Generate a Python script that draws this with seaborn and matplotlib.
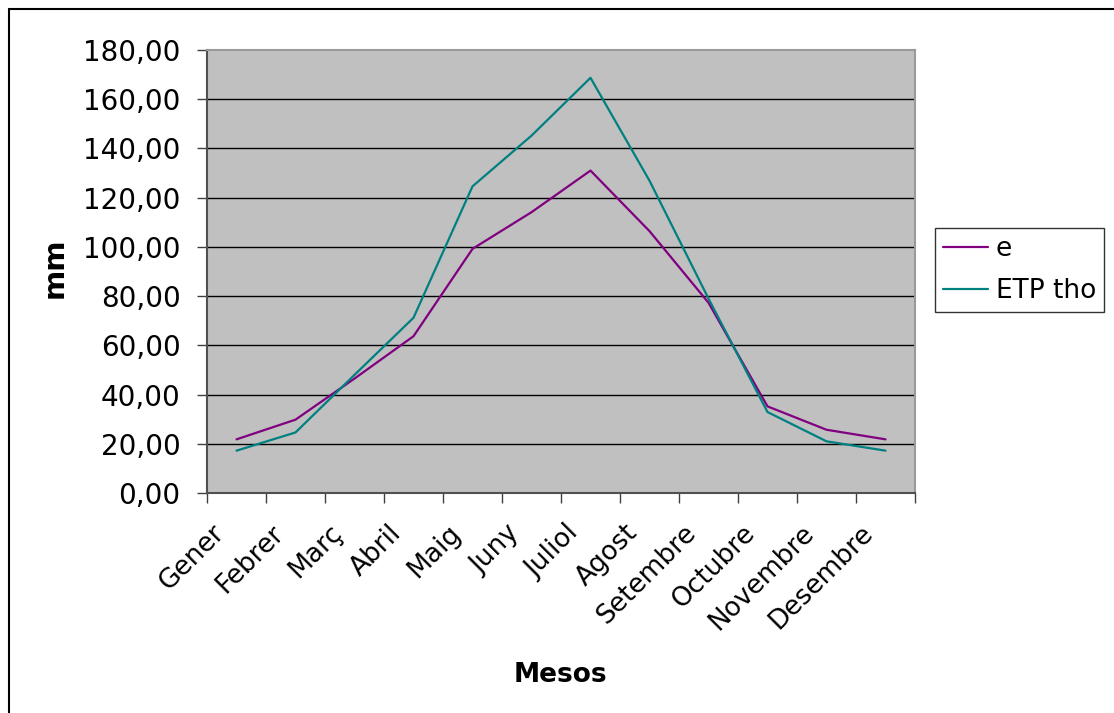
import matplotlib
matplotlib.use("Agg")
import matplotlib.pyplot as plt
import matplotlib.transforms as mtrans
import seaborn as sns
import pandas as pd
from matplotlib.ticker import FixedLocator, FuncFormatter
from matplotlib.lines import Line2D

months = ["Gener", "Febrer", "Març", "Abril", "Maig", "Juny", "Juliol",
          "Agost", "Setembre", "Octubre", "Novembre", "Desembre"]
e_vals = [21.8, 29.8, 46.5, 63.7, 99.2, 114.1, 131.0, 106.4, 77.3, 35.2, 25.7, 21.8]
etp_vals = [17.2, 24.6, 48.0, 71.2, 124.6, 145.2, 168.7, 126.9, 79.0, 32.9, 21.0, 17.2]
series_names = ["e", "ETP tho"]
colors = ["#800080", "#008080"]
y_ticks = [0, 20, 40, 60, 80, 100, 120, 140, 160, 180]

df = pd.DataFrame({
    "Mesos": months * 2,
    "mm": e_vals + etp_vals,
    "serie": [series_names[0]] * len(months) + [series_names[1]] * len(months),
})

sns.set_style("white")
plt.rcParams["font.family"] = ["DejaVu Sans"]
plt.rcParams["text.color"] = "black"
plt.rcParams["axes.labelcolor"] = "black"
plt.rcParams["xtick.color"] = "black"
plt.rcParams["ytick.color"] = "black"

W, H = 1114, 713
fig = plt.figure(figsize=(W / 100, H / 100), dpi=100)
ax = fig.add_axes([207 / W, 1 - 493 / H, (915 - 207) / W, (493 - 50) / H])
ax.set_facecolor("#C0C0C0")

sns.lineplot(data=df, x="Mesos", y="mm", hue="serie", hue_order=series_names,
             palette=colors, sort=False, ax=ax, linewidth=1.6, legend=False)

ax.set_ylim(0, 180)
ax.set_xlim(-0.5, len(months) - 0.5)
ax.set_yticks(y_ticks)
ax.yaxis.set_major_formatter(FuncFormatter(lambda v, p: f"{v:.2f}".replace(".", ",")))
ax.grid(False)
for v in y_ticks[1:-1]:
    ax.axhline(v, color="black", linewidth=1.0, zorder=1)

ax.xaxis.set_major_locator(FixedLocator([i - 0.5 for i in range(len(months) + 1)]))
ax.xaxis.set_minor_locator(FixedLocator(list(range(len(months)))))
ax.set_xticklabels([""] * (len(months) + 1))
ax.set_xticklabels(months, minor=True, rotation=45, ha="right", va="center",
                   rotation_mode="anchor", fontsize=19)
ax.tick_params(axis="x", which="major", length=7, width=1, color="#404040", direction="out",
               bottom=True)
ax.tick_params(axis="x", which="minor", length=0, pad=26, bottom=True)
ax.tick_params(axis="y", which="major", length=7, width=1, color="#404040", direction="out",
               labelsize=20, pad=12, left=True)
shift = mtrans.ScaledTranslation(-16 / 100, 0, fig.dpi_scale_trans)
for lab in ax.xaxis.get_minorticklabels():
    lab.set_transform(lab.get_transform() + shift)

for s in ["left", "bottom"]:
    ax.spines[s].set_color("#505050")
    ax.spines[s].set_linewidth(1.5)
for s in ["top", "right"]:
    ax.spines[s].set_color("#9a9a9a")
    ax.spines[s].set_linewidth(1.5)

ax.set_xlabel("Mesos", fontsize=19, fontweight="bold", va="center")
ax.set_ylabel("mm", fontsize=21, fontweight="bold", va="center")
ax.xaxis.set_label_coords((560 - 207) / (915 - 207), -(675 - 493) / (493 - 50))
ax.yaxis.set_label_coords(-(207 - 55) / (915 - 207), (493 - 268) / (493 - 50))

handles = [Line2D([0], [0], color=c, lw=1.6) for c in colors]
leg = fig.legend(handles, series_names, loc="upper left",
                 bbox_to_anchor=(935 / W, 1 - 228 / H),
                 fontsize=19, frameon=True, fancybox=False, borderpad=0.3,
                 handlelength=1.7, handletextpad=0.3, labelspacing=0.6, borderaxespad=0)
leg.get_frame().set_edgecolor("black")
leg.get_frame().set_linewidth(1.0)

fig.add_artist(Line2D([9 / W, 9 / W], [0, 1 - 9 / H], color="black", lw=1.5,
                      transform=fig.transFigure))
fig.add_artist(Line2D([9 / W, 1], [1 - 9 / H, 1 - 9 / H], color="black", lw=1.5,
                      transform=fig.transFigure))

fig.savefig("out.png", dpi=100, facecolor="white")
